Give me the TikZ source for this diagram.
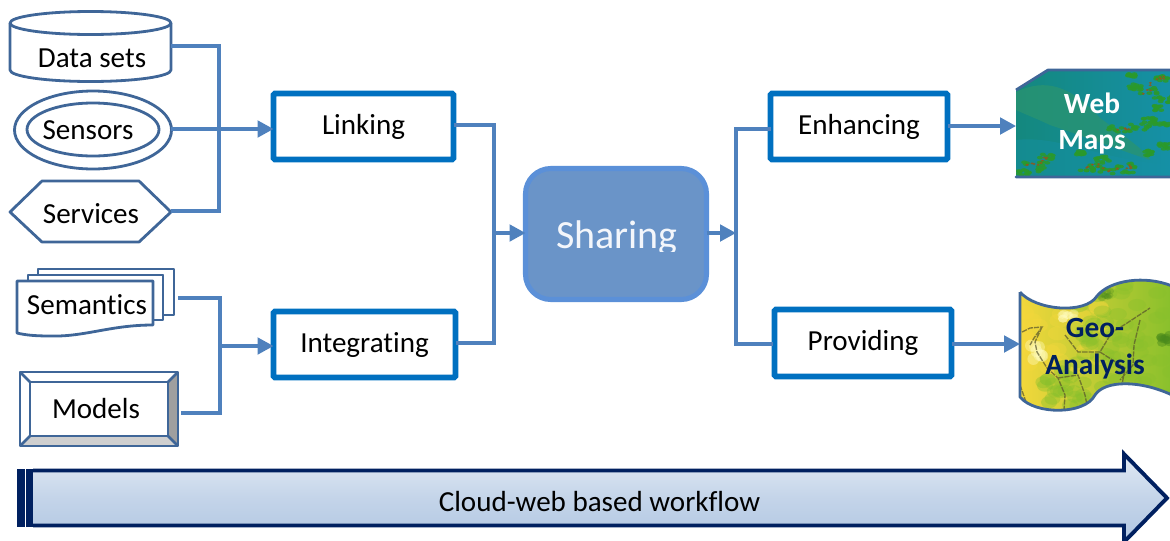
\documentclass[tikz,border=0pt]{standalone}
\usepackage{fontspec}
\setmainfont[RawFeature={-liga;-clig;-dlig}]{Carlito}
\usetikzlibrary{arrows.meta,calc,shapes.geometric}
\definecolor{shapeline}{HTML}{3F6698}
\definecolor{conn}{HTML}{4F81BD}
\definecolor{boxblue}{HTML}{0070C0}
\definecolor{navy}{HTML}{002060}
\definecolor{shfill}{HTML}{6A94C8}
\definecolor{shline}{HTML}{5B90D8}
\definecolor{arrtop}{HTML}{E2EAF4}
\definecolor{arrbot}{HTML}{B0C6E2}
\definecolor{mapteal}{HTML}{14887E}
\definecolor{mapblue}{HTML}{1590A6}
\definecolor{mapband}{HTML}{2A9470}
\definecolor{mapgreen}{HTML}{2B9A2A}
\definecolor{mapbrown}{HTML}{8A5A20}
\definecolor{geoyel}{HTML}{F6D83C}
\definecolor{geomid}{HTML}{BBD034}
\definecolor{geogrn}{HTML}{88C02C}
\definecolor{geodark}{HTML}{4A8A1C}
\tikzset{
  x=0.75pt,y=-0.75pt,
  lbl/.style={font=\fontsize{21.8}{26}\selectfont,text=black,inner sep=0pt},
  shapeln/.style={draw=shapeline,line width=2.1pt,line join=round},
  frame/.style={draw=boxblue,line width=4.2pt,fill=white,rounded corners=1pt,font=\fontsize{21.8}{26}\selectfont,text=black,inner sep=0pt,outer sep=0pt},
  wire/.style={draw=conn,line width=2.3pt,line join=miter},
  flow/.style={wire,-{Triangle[length=12pt,width=12.5pt]}},
  anchorbox/.style 2 args={inner sep=0pt,outer sep=0pt,minimum width={#1*0.75pt},minimum height={#2*0.75pt}},
  hlabel/.style={font=\bfseries\fontsize{22}{27.7}\selectfont,align=center,inner sep=0pt},
}
\begin{document}
\begin{tikzpicture}
\useasboundingbox (0,0) rectangle (1170,540);
\pgfmathsetseed{4242}

% ---------- source shapes
\draw[shapeln,fill=white] (10,23) -- (10,70) arc[start angle=180,end angle=360,x radius=80.5,y radius=-11.5] -- (171,23);
\draw[shapeln,fill=white] (90.5,23) ellipse[x radius=80.5,y radius=11.5];
\node[anchorbox={161}{58},lbl] (data) at (92,58.5) {Data sets};

\draw[shapeln,fill=white] (93,130) ellipse[x radius=78.5,y radius=39];
\draw[shapeln,fill=white] (93,129.5) ellipse[x radius=66,y radius=26.5];
\node[anchorbox={158}{78},lbl] (sensors) at (88,130.5) {Sensors};

\draw[shapeln,fill=white] (10,212) -- (42,181) -- (139,181) -- (171,212) -- (139,242) -- (42,242) -- cycle;
\node[anchorbox={161}{60},lbl] (services) at (91,214) {Services};

\draw[shapeln,fill=white] (38,275) -- (38,269) -- (174,269) -- (174,315) -- (163,315) -- (163,275) -- cycle;
\draw[shapeln,fill=white] (28,281) -- (28,275) -- (163,275) -- (163,320) -- (153,320) -- (153,281) -- cycle;
\draw[shapeln,fill=white] (17,281) -- (153,281) -- (153,325) .. controls (110,325) and (85,337) .. (50,336) .. controls (35,336) and (25,335) .. (17,333) -- cycle;
\node[anchorbox={136}{44},lbl] (semantics) at (87,304.5) {Semantics};

\fill[white] (20,372) rectangle (178,446);
\fill[gray!75] (178,372) -- (178,446) -- (168,436) -- (168,382) -- cycle;
\fill[gray!38] (20,446) -- (178,446) -- (168,436) -- (30,436) -- cycle;
\draw[shapeln] (20,372) rectangle (178,446);
\draw[shapeln] (30,382) rectangle (168,436);
\draw[shapeln] (20,372) -- (30,382) (178,372) -- (168,382) (20,446) -- (30,436) (178,446) -- (168,436);
\node[anchorbox={158}{74},lbl] (models) at (96,408.5) {Models};

% ---------- process boxes
\node[frame,anchorbox={180}{66}] (linking) at (363.5,126.5) {\raisebox{1pt}{Linking}};
\node[frame,anchorbox={182}{66}] (integrating) at (364.5,344.5) {Integrating};
\node[frame,anchorbox={177}{66}] (enhancing) at (859,126.5) {\raisebox{1pt}{Enhancing}};
\node[frame,anchorbox={177}{67}] (providing) at (863,343) {\raisebox{-.6pt}{Providing}};
\node[draw=shline,fill=shfill,line width=3.8pt,rounded corners=19pt,anchorbox={181}{131}] (sharing) at (616,234) {};
\begin{scope}
  \clip (524,170) rectangle (708,251);
  \node[font=\fontsize{30}{34}\selectfont,text=white!92!shfill,inner sep=0pt] (sharingtext) at (617,238.5) {Sharing};
\end{scope}

% ---------- connector junctions
\coordinate (dataE) at (171,46);
\coordinate (servE) at (171,211);
\coordinate (sensE) at (171,129);
\coordinate (semE) at (178,298);
\coordinate (modE) at (181,413);
\coordinate (busA) at (219,46);
\coordinate (busB) at (220,346);
\coordinate (busC) at (494,233);
\coordinate (busD) at (736,233);
\coordinate (enhW) at (771,129);
\coordinate (proW) at (773,344);

\draw[wire] (dataE) -| (busA |- servE) -- (servE);
\draw[flow] (sensE) -- (linking.west |- sensE);
\draw[wire] (semE) -| (busB |- modE) -- (modE);
\draw[flow] (busB) -- (integrating.west |- busB);
\draw[wire] (linking.east |- 0,125) -| (busC |- 0,343) -- (integrating.east |- 0,343);
\draw[flow] (busC) -- (sharing.west |- busC);
\draw[flow] (sharing.east |- busD) -- (busD);
\draw[wire] (enhW) -| (busD |- proW) -- (proW);

% ---------- Web Maps picture
\coordinate (webW) at (1016,126);
\begin{scope}
  \clip (1016,90) -- (1048,70) -- (1170,70) -- (1170,177) -- (1016,177) -- cycle;
  \fill[left color=mapteal,right color=mapblue] (1016,65) rectangle (1170,180);
  \fill[mapblue,opacity=.45] (1016,178) -- (1016,140) .. controls (1060,135) and (1100,160) .. (1170,165) -- (1170,178) -- cycle;
  \fill[mapband,opacity=.75] (1016,92) .. controls (1045,78) and (1070,85) .. (1100,118) .. controls (1130,140) and (1150,155) .. (1150,160) .. controls (1120,150) and (1080,135) .. (1050,125) .. controls (1035,118) and (1020,112) .. (1016,110) -- cycle;
  \foreach \cx/\cy/\sx/\sy in {
    1034/166/15/9, 1046/159/7/5, 1024/172/6/3, 1092/167/12/5,
    1110/170/14/4, 1128/168/9/5, 1103/160/7/4, 1148/153/4/3,
    1122/129/14/3, 1140/127/10/3, 1150/120/7/3, 1135/87/6/3,
    1148/88/9/10, 1160/78/8/3, 1166/100/7/4, 1158/108/4/3,
    1162/124/8/2, 1080/153/4/2, 1165/146/6/3, 1130/75/5/2}
    \foreach \k in {1,...,11}{
      \pgfmathsetmacro\ox{\cx+\sx*rand}
      \pgfmathsetmacro\oy{\cy+\sy*rand}
      \fill[mapgreen,opacity=.85] (\ox,\oy) ellipse[x radius=3,y radius=1.8];
    };
  \foreach \cx/\cy/\sx/\sy in {
    1034/166/9/6, 1044/160/4/3, 1092/167/7/3, 1110/170/8/2,
    1148/87/5/7, 1160/78/4/2, 1124/129/7/1, 1129/168/5/3}
    \foreach \k in {1,...,5}{
      \pgfmathsetmacro\ox{\cx+\sx*rand}
      \pgfmathsetmacro\oy{\cy+\sy*rand}
      \fill[mapbrown,opacity=.9] (\ox,\oy) ellipse[x radius=1.6,y radius=1.1];
    };
\end{scope}
\draw[shapeln] (1016,90) -- (1048,70) -- (1170,70) (1170,177) -- (1016,177) -- cycle;
\node[hlabel,text=white] (web) at (1092,123.5) {Web\\Maps};
\draw[flow] (enhancing.east |- webW) -- (webW);

% ---------- Geo-Analysis picture
\coordinate (geoW) at (1020,344);
\begin{scope}
  \clip (1020,292) .. controls (1035,310) and (1085,315) .. (1097,296) .. controls (1110,280) and (1145,275) .. (1172,286) -- (1172,395) .. controls (1140,380) and (1105,380) .. (1095,395) .. controls (1085,415) and (1035,415) .. (1020,397) -- cycle;
  \fill[left color=geoyel,middle color=geomid,right color=geogrn] (1015,275) rectangle (1172,420);
  \foreach \k in {1,...,34}{
    \pgfmathsetmacro\ox{1060+42*rand}
    \pgfmathsetmacro\oy{338+32*rand}
    \fill[geoyel,opacity=.35] (\ox,\oy) ellipse[x radius=10,y radius=7];
  };
  \foreach \k in {1,...,60}{
    \pgfmathsetmacro\ox{1125+48*rand}
    \pgfmathsetmacro\oy{340+62*rand}
    \fill[geogrn,opacity=.35] (\ox,\oy) ellipse[x radius=9,y radius=6];
  };
  \foreach \k in {1,...,22}{
    \pgfmathsetmacro\ox{1065+22*rand}
    \pgfmathsetmacro\oy{385+22*rand}
    \fill[geogrn,opacity=.4] (\ox,\oy) ellipse[x radius=8,y radius=6];
  };
  \foreach \k in {1,...,8}{
    \pgfmathsetmacro\ox{1036+7*rand}
    \pgfmathsetmacro\oy{350+9*rand}
    \fill[yellow!25,opacity=.4] (\ox,\oy) ellipse[x radius=6,y radius=6];
    \pgfmathsetmacro\ox{1067+7*rand}
    \pgfmathsetmacro\oy{316+3*rand}
    \fill[yellow!25,opacity=.4] (\ox,\oy) ellipse[x radius=5,y radius=4];
  };
  \foreach \k in {1,...,10}{
    \pgfmathsetmacro\ox{1166+6*rand}
    \pgfmathsetmacro\oy{337+6*rand}
    \fill[geodark,opacity=.45] (\ox,\oy) ellipse[x radius=5,y radius=4];
    \pgfmathsetmacro\ox{1106+7*rand}
    \pgfmathsetmacro\oy{295+4*rand}
    \fill[geodark,opacity=.3] (\ox,\oy) ellipse[x radius=4,y radius=3];
  };
  \draw[black!50!olive,line width=1pt,opacity=.7,dash pattern=on 4pt off .8pt]
    (1022,332) -- (1030,328) -- (1042,327) -- (1034,338) -- (1030,345)
    (1042,327) -- (1035,342) -- (1037,352) -- (1047,368) -- (1058,378) -- (1065,395) -- (1064,410)
    (1058,378) -- (1078,375) -- (1085,395) -- (1088,410)
    (1065,335) -- (1078,352) -- (1100,352) -- (1112,332) -- (1124,325) -- (1150,308)
    (1100,352) -- (1125,368) -- (1122,385)
    (1140,320) -- (1134,345) -- (1133,365) -- (1120,380)
    (1020,385) -- (1026,402);
\end{scope}
\draw[shapeln] (1020,292) .. controls (1035,310) and (1085,315) .. (1097,296) .. controls (1110,280) and (1145,275) .. (1172,286)
  (1172,395) .. controls (1140,380) and (1105,380) .. (1095,395) .. controls (1085,415) and (1035,415) .. (1020,397) -- (1020,292);
\node[hlabel,text=navy] (geo) at (1095,349) {Geo-\\Analysis};
\draw[flow] (providing.east |- geoW) -- (geoW);

% ---------- workflow arrow
\path[shade,top color=arrtop,bottom color=arrbot,middle color=arrbot!60!arrtop]
  (19,471) -- (1123,471) -- (1123,453) -- (1167,498) -- (1123,543) -- (1123,525) -- (19,525) -- cycle;
\fill[navy] (17,469) rectangle (33,527);
\draw[white,line width=.45pt] (25,469) -- (25,527);
\draw[navy,line width=2.9pt,line join=miter] (33,470.5) -- (1124,470.5) -- (1124,454) -- (1167,498) -- (1124,542) -- (1124,525.5) -- (33,525.5);
\node[lbl] (workflow) at (599.5,501.5) {Cloud-web based workflow};
\end{tikzpicture}
\end{document}
